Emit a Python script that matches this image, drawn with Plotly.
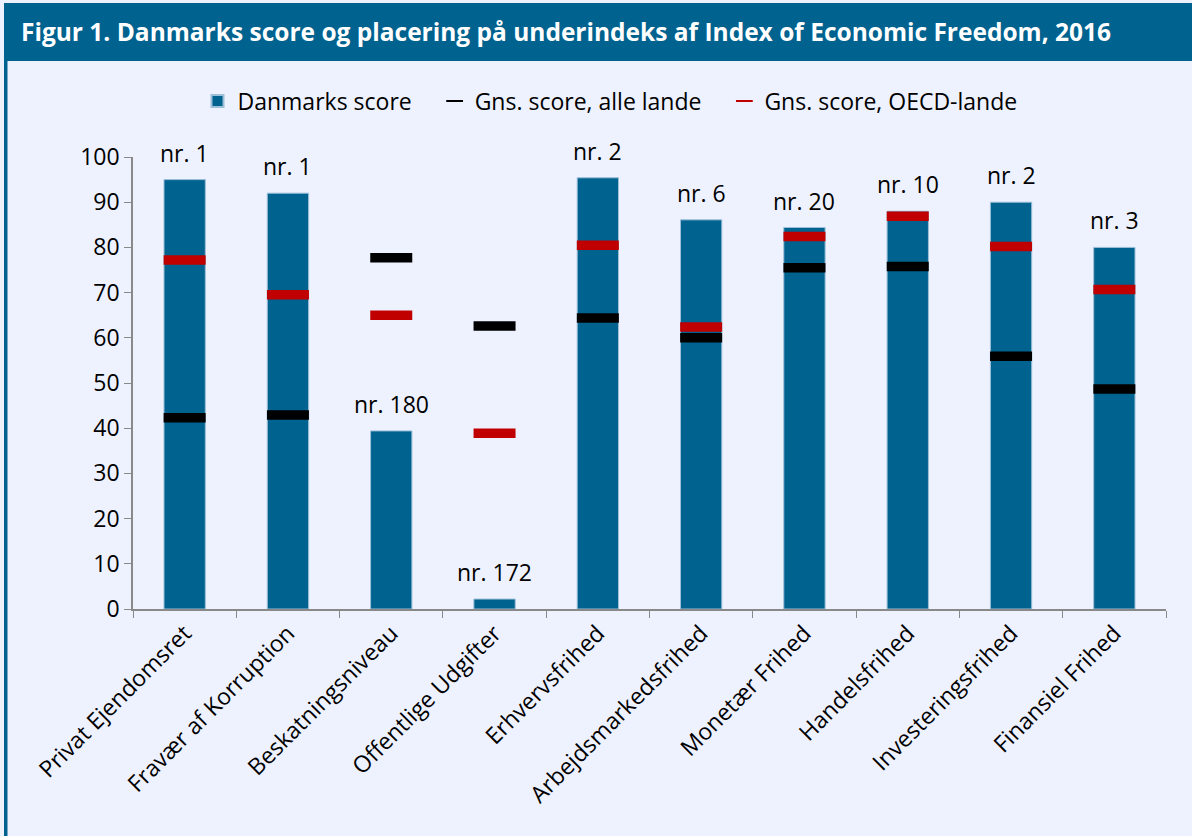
import plotly.graph_objects as go

categories = ["Privat Ejendomsret", "Fravær af Korruption", "Beskatningsniveau",
              "Offentlige Udgifter", "Erhvervsfrihed", "Arbejdsmarkedsfrihed",
              "Monetær Frihed", "Handelsfrihed", "Investeringsfrihed", "Finansiel Frihed"]
dk_score = [95.0, 92.0, 39.4, 2.2, 95.4, 86.1, 84.4, 88.0, 90.0, 80.0]
avg_all = [42.3, 42.9, 77.7, 62.6, 64.4, 60.0, 75.5, 75.8, 55.9, 48.7]
avg_oecd = [77.2, 69.5, 65.0, 38.9, 80.5, 62.4, 82.4, 86.9, 80.2, 70.7]
ranks = ["nr. 1", "nr. 1", "nr. 180", "nr. 172", "nr. 2", "nr. 6", "nr. 20", "nr. 10", "nr. 2", "nr. 3"]
y_ticks = list(range(0, 101, 10))

FONT = "Open Sans"
FS = 23
BLUE = "#00628F"
RED = "#C00000"
BG = "#EEF2FE"
PAD = "\u00a0" * 3

W, H = 1192, 836
L, R, T, B = 133, 26, 157, 227
PW, PH = W - L - R, H - T - B


def px(x):
    return (x - L) / PW


def py(y):
    return (H - B - y) / PH


fig = go.Figure()
fig.add_trace(go.Bar(
    x=categories, y=dk_score, name="Danmarks score" + PAD, width=0.4,
    marker=dict(color=BLUE, line=dict(color="#9DBFD8", width=1)),
))
fig.add_trace(go.Scatter(
    x=categories, y=avg_all, name="Gns. score, alle lande" + PAD, mode="markers",
    marker=dict(symbol="line-ew", size=30, line=dict(color="black", width=9.5), color="black"),
))
fig.add_trace(go.Scatter(
    x=categories, y=avg_oecd, name="Gns. score, OECD-lande", mode="markers",
    marker=dict(symbol="line-ew", size=30, line=dict(color=RED, width=9.5), color=RED),
))

for c, v, r in zip(categories, dk_score, ranks):
    fig.add_annotation(x=c, y=v, text=r, showarrow=False, yshift=27,
                       yanchor="middle", font=dict(family=FONT, size=FS, color="black"))

# title bar and left border
fig.add_shape(type="rect", xref="paper", yref="paper",
              x0=px(4), x1=px(W + 2), y0=py(61), y1=py(3),
              fillcolor=BLUE, line=dict(width=0), layer="above")
fig.add_shape(type="rect", xref="paper", yref="paper",
              x0=px(4), x1=px(7.5), y0=py(H + 2), y1=py(61),
              fillcolor=BLUE, line=dict(width=0), layer="above")
fig.add_annotation(xref="paper", yref="paper", x=px(19), y=py(32),
                   xanchor="left", yanchor="middle", showarrow=False,
                   text="<b>Figur 1. Danmarks score og placering på underindeks af Index of Economic Freedom, 2016</b>",
                   font=dict(family=FONT, size=24.5, color="white"))

fig.update_layout(
    width=W, height=H,
    margin=dict(l=L, r=R, t=T, b=B, autoexpand=False),
    paper_bgcolor=BG, plot_bgcolor=BG,
    font=dict(family=FONT, size=FS, color="black"),
    showlegend=True,
    legend=dict(orientation="h", x=px(610), xanchor="center", y=py(101), yanchor="middle",
                font=dict(family=FONT, size=FS), bgcolor="rgba(0,0,0,0)", itemsizing="constant",
                traceorder="normal"),
    xaxis=dict(type="category", range=[-0.5, 9.5], tickson="boundaries", ticks="outside", ticklen=7,
               tickcolor="#898989", showline=True, linecolor="#898989", linewidth=1.5,
               tickangle=-45, showgrid=False, tickfont=dict(family=FONT, size=FS)),
    yaxis=dict(range=[0, 100], tickvals=y_ticks, ticks="outside", ticklen=7,
               tickcolor="#898989", showline=True, linecolor="#898989", linewidth=1.5,
               showgrid=False, zeroline=False, tickfont=dict(family=FONT, size=FS)),
)

fig.write_html("out.html", config={"displayModeBar": False},
               post_script="document.body.style.margin='0';document.body.style.overflow='hidden';")
